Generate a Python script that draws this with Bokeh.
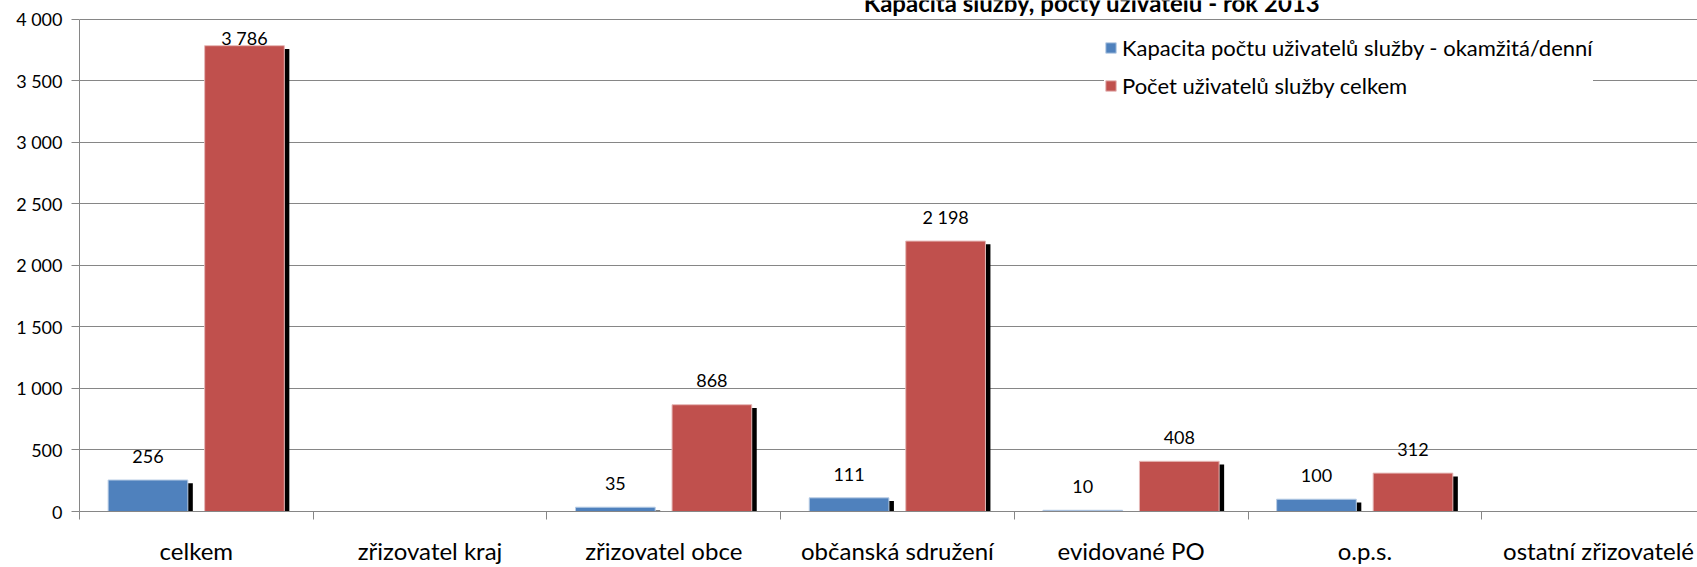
import numpy as np
from bokeh.plotting import figure
from bokeh.models import ColumnDataSource, FixedTicker, Legend, LegendItem, Label, Range1d
from bokeh.core.properties import value
from bokeh.embed import file_html
from bokeh.resources import INLINE

# ---------------- data ----------------
categories = ["celkem", "zřizovatel kraj", "zřizovatel obce", "občanská sdružení",
              "evidované PO", "o.p.s.", "ostatní zřizovatelé"]
kapacita = [256, 0, 35, 111, 10, 100, 0]
pocet = [3786, 0, 868, 2198, 408, 312, 0]
series_names = ["Kapacita počtu uživatelů služby - okamžitá/denní",
                "Počet uživatelů služby celkem"]
y_ticks = [0, 500, 1000, 1500, 2000, 2500, 3000, 3500, 4000]
y_tick_labels = ["0", "500", "1 000", "1 500", "2 000", "2 500", "3 000", "3 500", "4 000"]
title_text = "Kapacita služby, počty uživatelů - rok 2013"

# ---------------- layout / style ----------------
W, H = 1697, 567
LEFT, TOP_AXIS, BOTTOM = 79, 19, 52
CAT_PX = 233.7
frame_w = W - LEFT
frame_h = H - BOTTOM            # frame reaches the top of the canvas
YMAX = 4000
u_per_px = YMAX / (frame_h - TOP_AXIS)
y_view_end = frame_h * u_per_px
x_end = frame_w / CAT_PX

BLUE, RED = "#4F81BD", "#C0504D"
GRID = "#868686"
FONT = "Lato"
NUM_SIZE = "18px"

p = figure(width=W, height=H, output_backend="svg", toolbar_location=None,
           x_range=Range1d(0, x_end), y_range=Range1d(0, y_view_end),
           min_border_left=LEFT, min_border_top=0, min_border_bottom=BOTTOM,
           min_border_right=0)
p.outline_line_color = None
p.background_fill_color = "white"
p.border_fill_color = "white"

idx = np.arange(len(categories))
bar_w = 0.341
off_blue, off_red = 0.293, 0.706
sh_dx = 5 / CAT_PX
sh_dy = 3.3 * u_per_px

kap = np.array(kapacita, dtype=float)
poc = np.array(pocet, dtype=float)

# shadows
p.vbar(x=idx + off_blue + sh_dx, top=kap - sh_dy, bottom=0, width=bar_w,
       fill_color="black", line_color=None)
p.vbar(x=idx + off_red + sh_dx, top=poc - sh_dy, bottom=0, width=bar_w,
       fill_color="black", line_color=None)

rb = p.vbar(x=idx + off_blue, top=kap, bottom=0, width=bar_w,
            fill_color=BLUE, line_color="#B9CDE5", line_width=1)
rr = p.vbar(x=idx + off_red, top=poc, bottom=0, width=bar_w,
            fill_color=RED, line_color="#E6B9B8", line_width=1)

# data labels
lab_gap = 24 * u_per_px
lab_cap = (515 - 38) * u_per_px
for vals, off in ((kap, off_blue), (poc, off_red)):
    m = vals > 0
    src = ColumnDataSource(dict(
        x=(idx + off)[m],
        y=np.minimum(vals[m] + lab_gap, lab_cap),
        t=[f"{int(v):,}".replace(",", " ") for v in vals[m]],
    ))
    p.text(x="x", y="y", text="t", source=src, text_align="center",
           text_baseline="middle", text_font=value(FONT),
           text_font_size=NUM_SIZE, text_color="black")

# axes
p.yaxis.ticker = FixedTicker(ticks=y_ticks)
p.yaxis.bounds = (0, YMAX)
p.yaxis.major_label_overrides = {t: l for t, l in zip(y_ticks, y_tick_labels)}
p.yaxis.axis_line_color = GRID
p.yaxis.major_tick_line_color = GRID
p.yaxis.major_tick_out = 8
p.yaxis.major_tick_in = 0
p.yaxis.minor_tick_line_color = None
p.yaxis.major_label_standoff = 9
p.yaxis.major_label_text_font = FONT
p.yaxis.major_label_text_font_size = NUM_SIZE
p.yaxis.major_label_text_color = "black"

centers = [i + 0.5 for i in range(len(categories))]
p.xaxis.ticker = FixedTicker(ticks=centers, minor_ticks=list(range(len(categories) + 1)))
p.xaxis.major_label_overrides = {c: n for c, n in zip(centers, categories)}
p.xaxis.axis_line_color = GRID
p.xaxis.major_tick_line_color = None
p.xaxis.major_tick_out = 0
p.xaxis.major_tick_in = 0
p.xaxis.minor_tick_line_color = GRID
p.xaxis.minor_tick_out = 8
p.xaxis.minor_tick_in = 0
p.xaxis.major_label_standoff = 16
p.xaxis.major_label_text_font = FONT
p.xaxis.major_label_text_font_size = "24px"
p.xaxis.major_label_text_color = "black"

p.xgrid.grid_line_color = None
p.ygrid.ticker = FixedTicker(ticks=y_ticks)
p.ygrid.grid_line_color = GRID
p.ygrid.grid_line_width = 1

# legend
legend = Legend(items=[LegendItem(label=series_names[0], renderers=[rb]),
                       LegendItem(label=series_names[1], renderers=[rr])],
                location=(1025, 412), orientation="vertical",
                background_fill_color="white", background_fill_alpha=1.0,
                border_line_color=None, glyph_width=13, glyph_height=13,
                label_standoff=5, padding=12, spacing=11, margin=0,
                label_height=21, label_text_font=FONT,
                label_text_font_size="22px", label_text_color="black")
p.add_layout(legend)

# title (cropped at the top edge in the original)
title_x = (1091.5 - LEFT) / CAT_PX
title_y = (frame_h - 2.5) * u_per_px
p.add_layout(Label(x=title_x, y=title_y, text=title_text, text_align="center",
                   text_baseline="alphabetic", text_font=FONT,
                   text_font_style="bold", text_font_size="24px",
                   text_color="black"))

open("out.html", "w").write(file_html(p, INLINE))
